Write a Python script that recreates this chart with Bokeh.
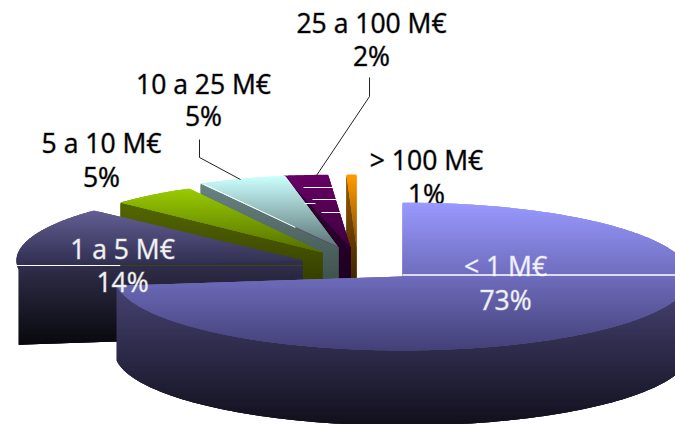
import math
from bokeh.core.properties import value
from bokeh.embed import file_html
from bokeh.models import Range1d
from bokeh.plotting import figure
from bokeh.resources import INLINE

# Turnover brackets and their share of companies, clockwise from twelve o'clock
categories = ["< 1 M€", "1 a 5 M€", "5 a 10 M€", "10 a 25 M€", "25 a 100 M€", "> 100 M€"]
shares = [73, 14, 5, 5, 2, 1]

W, H = 675, 424
DEPTH = 75
FONT = "Open Sans"

# Exploded wedge layout, one entry per category: apex x, apex y, radii
wedge_layout = [
    (402, 276, 288, 74),
    (302, 260, 286, 73),
    (322, 252, 277, 73),
    (338, 247, 286, 73),
    (350, 247, 357, 73),
    (356, 247, 160, 73),
]

# Vertical colour ramps: (y0, rgb0, y1, rgb1) for the top face and the side face
top_ramps = [
    (202, (153, 153, 255), 350, (68, 64, 120)),
    (207, (102, 98, 152), 265, (48, 46, 80)),
    (188, (153, 204, 0), 252, (85, 110, 0)),
    (176, (204, 255, 255), 247, (90, 115, 115)),
    (176, (102, 0, 102), 247, (62, 0, 62)),
    (176, (255, 153, 0), 247, (125, 78, 0)),
]
side_ramps = [
    (281, (72, 69, 118), 424, (18, 16, 28)),
    (265, (48, 46, 74), 345, (8, 8, 12)),
    (200, (85, 105, 0), 278, (55, 65, 0)),
    (185, (105, 130, 130), 275, (65, 85, 80)),
    (176, (55, 0, 55), 275, (30, 0, 35)),
    (176, (150, 90, 0), 275, (70, 40, 0)),
]

p = figure(width=W, height=H, x_range=Range1d(0, W), y_range=Range1d(H, 0),
           output_backend="svg", toolbar_location=None, min_border=0,
           outline_line_color=None, background_fill_color="white")
p.xaxis.visible = False
p.yaxis.visible = False
p.grid.visible = False


def rim(cx, cy, rx, ry, a0, a1, n=90):
    """Points along the elliptical rim, angles in degrees clockwise from the top."""
    pts = []
    for i in range(n + 1):
        a = math.radians(a0 + (a1 - a0) * i / n)
        pts.append((cx + rx * math.sin(a), cy - ry * math.cos(a)))
    return pts


def clip_band(poly, lo, hi):
    """Clip a polygon to the horizontal band lo <= y <= hi."""
    def clip(points, keep, cross):
        out = []
        for i, cur in enumerate(points):
            prev = points[i - 1]
            if keep(cur):
                if not keep(prev):
                    out.append(cross(prev, cur))
                out.append(cur)
            elif keep(prev):
                out.append(cross(prev, cur))
        return out

    def at(level):
        def cross(a, b):
            t = (level - a[1]) / (b[1] - a[1])
            return (a[0] + (b[0] - a[0]) * t, level)
        return cross

    poly = clip(poly, lambda q: q[1] >= lo, at(lo))
    if poly:
        poly = clip(poly, lambda q: q[1] <= hi, at(hi))
    return poly


def shaded(poly, ramp):
    """Fill a polygon with a vertical colour ramp, drawn as overlapping horizontal bands."""
    y0, c0, y1, c1 = ramp
    top = math.floor(min(q[1] for q in poly))
    bottom = math.ceil(max(q[1] for q in poly))
    xs, ys, colors = [], [], []
    for y in range(top, bottom):
        # Each band reaches past the next one, so the edges never show the layer below
        band = clip_band(poly, y, y + 3)
        if len(band) < 3:
            continue
        t = min(1, max(0, (y + 0.5 - y0) / (y1 - y0)))
        rgb = [round(a + (b - a) * t) for a, b in zip(c0, c1)]
        xs.append([q[0] for q in band])
        ys.append([q[1] for q in band])
        colors.append("#%02x%02x%02x" % tuple(rgb))
    p.patches(xs, ys, fill_color=colors, line_color=None, fill_alpha=1.0)


# Wedge angles follow directly from the shares
angles = []
running = 0.0
for share in shares:
    angles.append((running, running + share * 3.6))
    running += share * 3.6

labels = [f"{share}%" for share in shares]


def label(idx, cx, y_name, y_share, color, outline):
    for text, y in ((categories[idx], y_name), (labels[idx], y_share)):
        p.text([cx], [y], text=[text], text_font=value(FONT), text_font_size="26.5px",
               text_color=color, text_alpha=1.0, text_align="center", text_baseline="middle",
               text_outline_color=outline)


# Wedges are painted from the back to the front; the large slice goes last
for i in (5, 4, 3, 2, 1):
    cx, cy, rx, ry = wedge_layout[i]
    a0, a1 = angles[i]
    arc = rim(cx, cy, rx, ry, a0, a1)
    start = arc[0]
    side = [start, (cx, cy), (cx, cy + DEPTH), (start[0], start[1] + DEPTH)]
    shaded(side, side_ramps[i])
    shaded([(cx, cy)] + arc, top_ramps[i])

# Seam across the front of the 1 a 5 M€ wedge
p.segment([16], [265], [120], [265], line_color="white", line_width=1.2, line_alpha=1.0)
p.segment([120], [265], [302], [265], line_color="#3c4210", line_width=1, line_alpha=1.0)

# Light rules on the 25 a 100 M€ wedge and the edge highlights
p.segment([303, 312, 304, 321], [187, 199, 203, 212], [342, 343, 315, 345], [187, 199, 203, 212],
          line_color="white", line_width=1, line_alpha=1.0)
p.segment([204], [184], [295], [227], line_color="white", line_width=1, line_alpha=1.0)
p.segment([295], [227], [338], [247], line_color="#5a3a6a", line_width=0.8, line_alpha=1.0)

# Outer labels and their leaders
label(4, 371, 22, 55, "black", "#00000066")
label(3, 203, 83, 115, "black", "#00000066")
label(2, 101, 142, 176, "black", "#00000066")
label(5, 426, 159, 193, "black", "#00000066")
p.line([199, 199, 240], [139, 157, 179], line_color="#222222", line_width=1)
p.line([369, 369, 316], [77, 96, 175], line_color="#222222", line_width=1)

# The main wedge: side wall first, then its top face
cx, cy, rx, ry = wedge_layout[0]
a0, a1 = angles[0]
outer = rim(cx, cy, rx, ry, 90, a1, n=120)
wall = outer + [(q[0], q[1] + DEPTH) for q in reversed(outer)]
shaded(wall, side_ramps[0])
shaded([(cx, cy)] + rim(cx, cy, rx, ry, a0, a1, n=240), top_ramps[0])

label(1, 122, 248, 281, "#f2f2f2", "#f2f2f266")
label(0, 505, 265, 299, "#f0f0f8", "#f0f0f866")
p.segment([402], [274.5], [W], [274.5], line_color="white", line_width=1.5, line_alpha=1.0)

open("out.html", "w").write(file_html(p, INLINE))
